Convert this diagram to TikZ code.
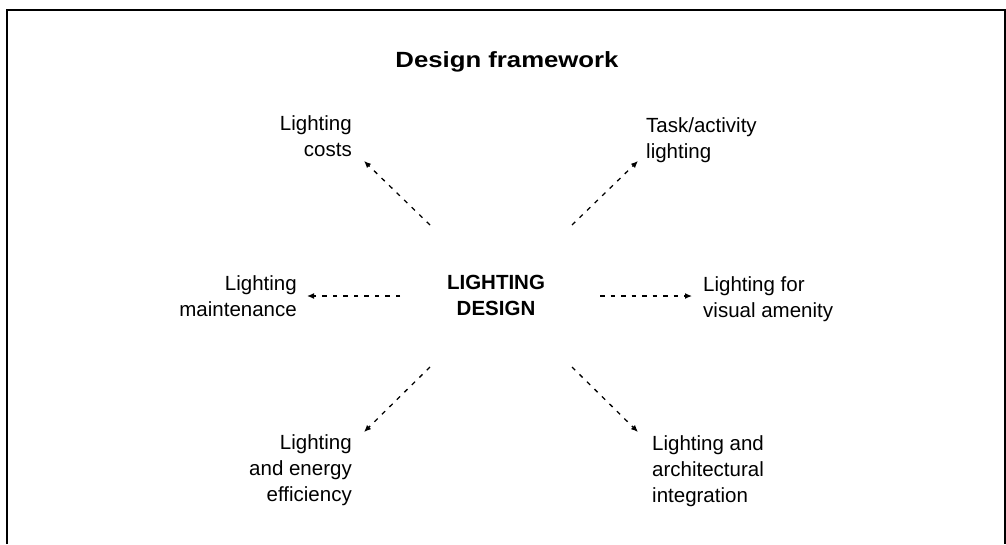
\documentclass[tikz,border=0pt]{standalone}
\usepackage{fontspec}
\setmainfont{Liberation Sans}
\newfontfamily\headfont[FakeStretch=1.17]{Liberation Sans Bold}
\usetikzlibrary{arrows.meta}
\begin{document}
\begin{tikzpicture}[x=1pt,y=-1pt,
  lbl/.style={inner sep=0pt, font=\fontsize{20.5}{26}\selectfont},
  hub/.style={inner sep=0pt, font=\fontsize{20.5}{26}\selectfont\bfseries, align=center},
  heading/.style={inner sep=0pt, font=\fontsize{22}{26}\selectfont\headfont},
  link/.style={line width=1.3pt, dash pattern=on 4.5pt off 6pt,
    -{Latex[length=7pt,width=6pt]}},
  frame/.style={line width=1.5pt}]
\useasboundingbox (0,0) rectangle (1006,544);

% open frame round the figure
\draw[frame] (7,544) -- (7,10) -- (1005,10) -- (1005,544);

% heading
\node[heading, anchor=base] (title) at (507,67) {Design framework};

% centre
\node[hub, anchor=north] (hub) at (496,275) {LIGHTING\\DESIGN};

% surrounding topics
\node[lbl, anchor=north east, align=right] (costs) at (352,115) {Lighting\\costs};
\node[lbl, anchor=north west, align=left] (task) at (646,117) {Task/activity\\lighting};
\node[lbl, anchor=north east, align=right] (maint) at (297,275) {Lighting\\maintenance};
\node[lbl, anchor=north west, align=left] (amen) at (703,276) {Lighting for\\visual amenity};
\node[lbl, anchor=north east, align=right] (energy) at (352,434) {Lighting\\and energy\\efficiency};
\node[lbl, anchor=north west, align=left] (arch) at (652,435) {Lighting and\\architectural\\integration};

% connector ends
\coordinate (costsT) at (430,225);  \coordinate (costsH) at (364,161);
\coordinate (taskT) at (572,225);   \coordinate (taskH) at (638,161);
\coordinate (maintT) at (400,296);  \coordinate (maintH) at (307,296);
\coordinate (amenT) at (600,296);   \coordinate (amenH) at (692,296);
\coordinate (energyT) at (430,367); \coordinate (energyH) at (364,432);
\coordinate (archT) at (572,367);   \coordinate (archH) at (638,432);

\draw[link] (costsT) -- (costsH);
\draw[link] (taskT) -- (taskH);
\draw[link] (maintT) -- (maintH);
\draw[link] (amenT) -- (amenH);
\draw[link] (energyT) -- (energyH);
\draw[link] (archT) -- (archH);
\end{tikzpicture}
\end{document}
